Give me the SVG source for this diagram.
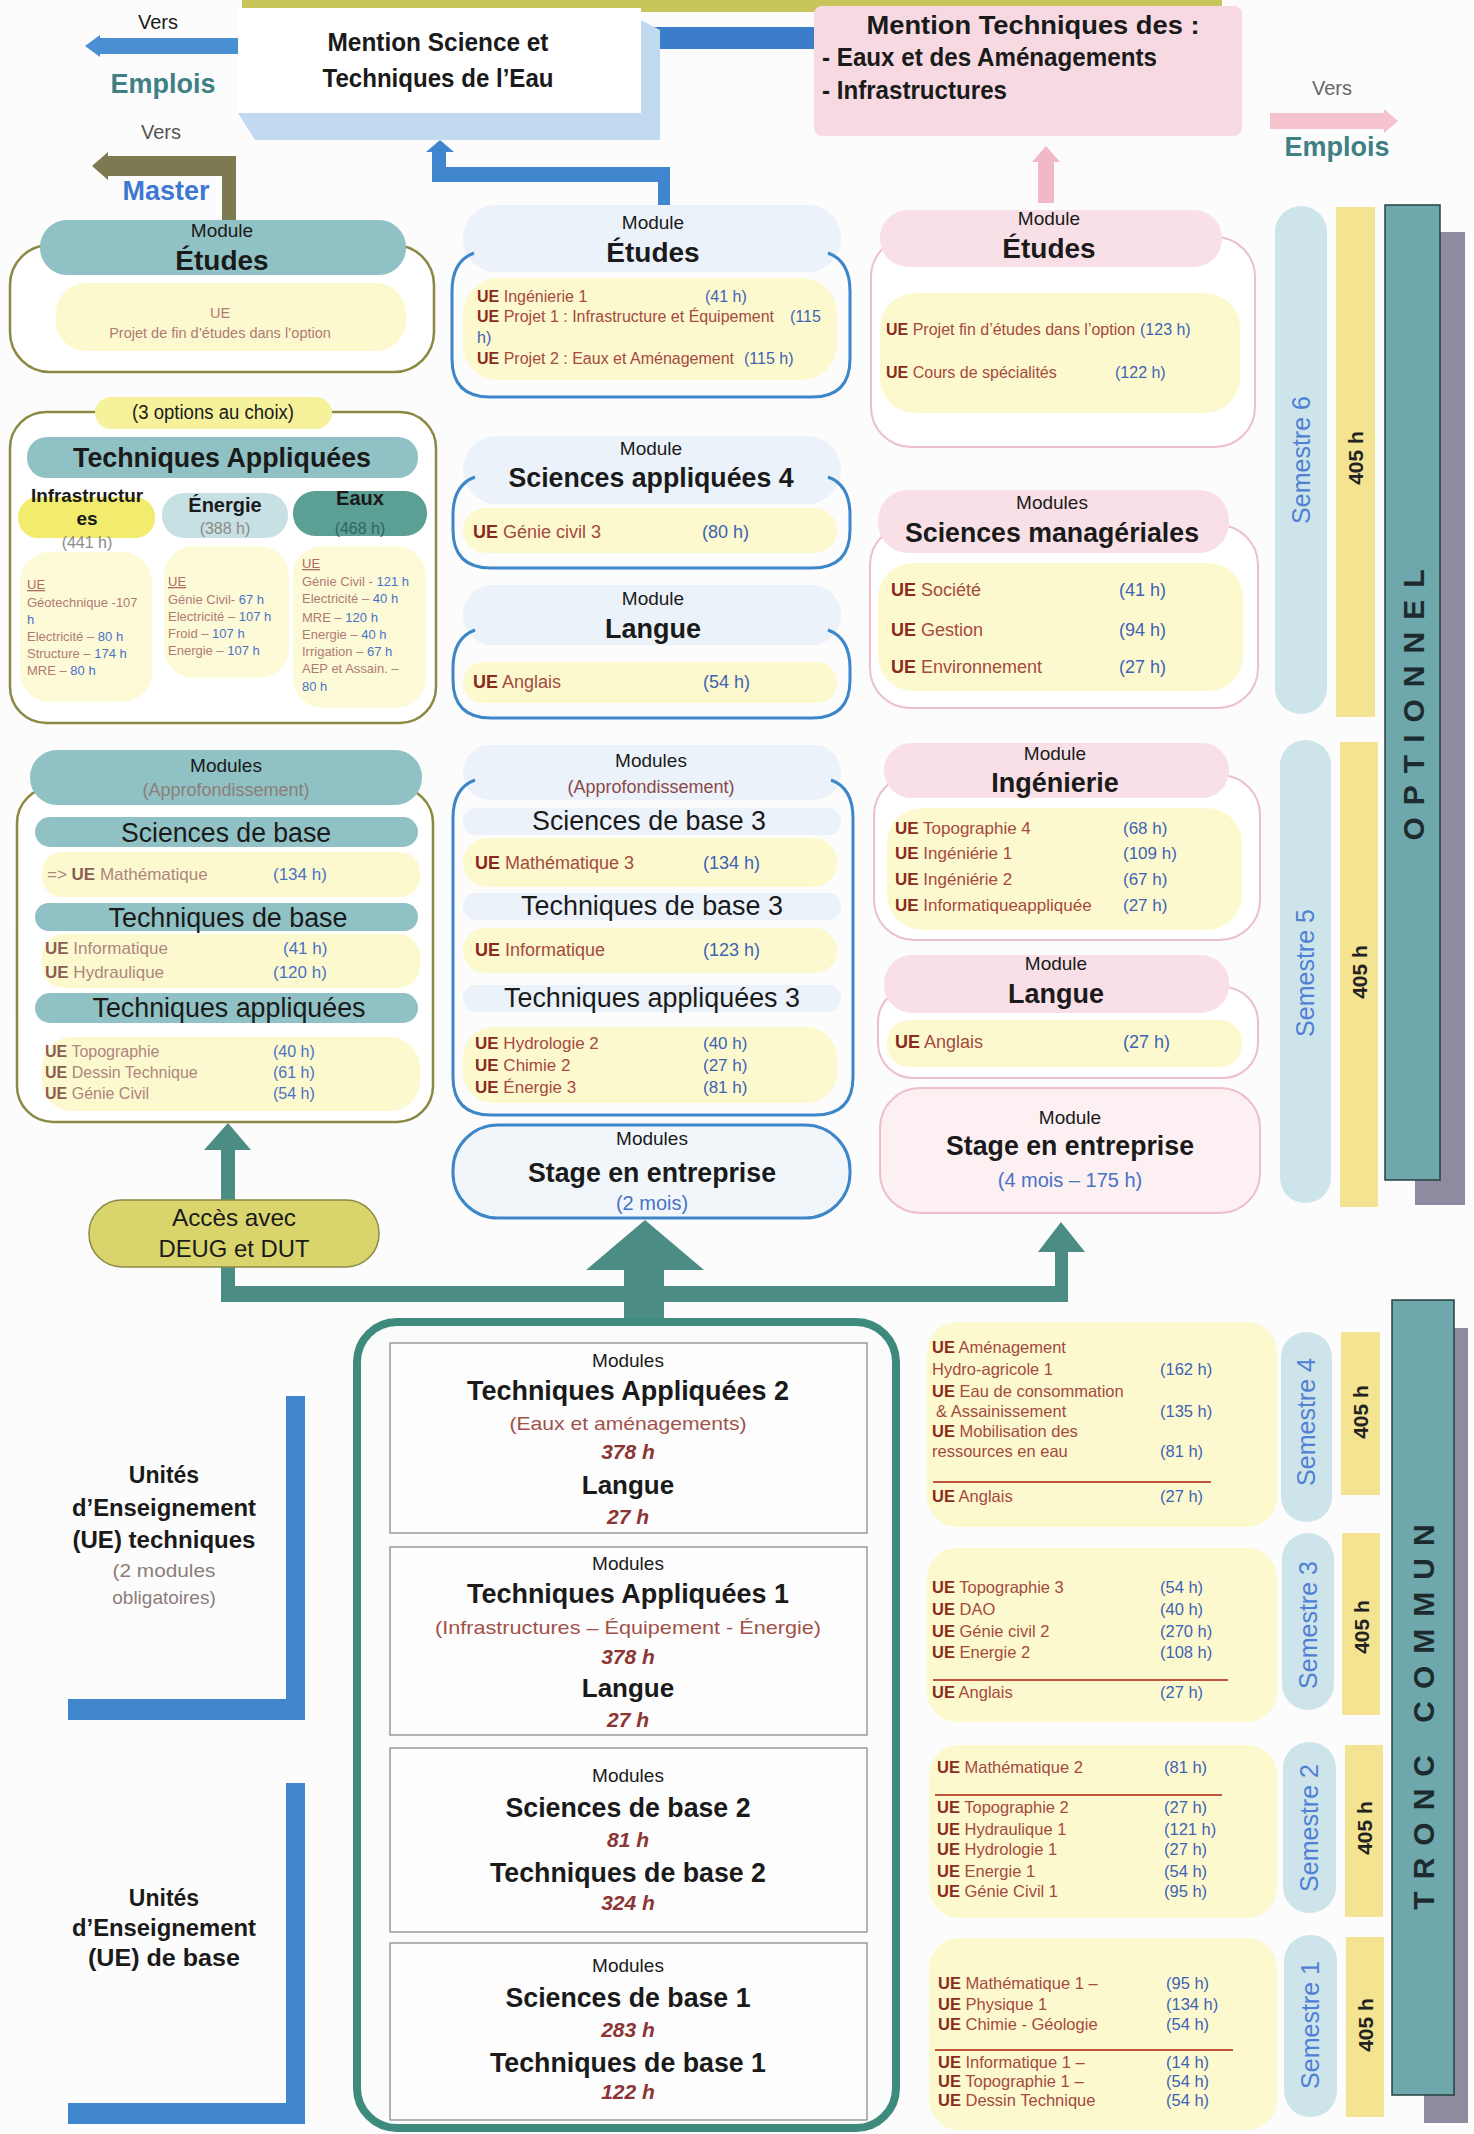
<svg xmlns="http://www.w3.org/2000/svg" width="1474" height="2134" viewBox="0 0 1474 2134">
<style>
text{font-family:"Liberation Sans",Arial,Helvetica,sans-serif;fill:#1a1a1a}
.m{text-anchor:middle}
.b{font-weight:bold}
.ue{font-weight:bold;fill:#8a2b20}
.nm{fill:#a54a3e}
.hr{fill:#3d63b5}
.ue2{font-weight:bold;fill:#8a5e57}
.nm2{fill:#ad8680}
.hr2{fill:#4a72c4}
.op{fill:#b07a74}
.opu{fill:#b06a60;text-decoration:underline}
.gr{fill:#8c7d7a}
.sem{fill:#5080d4;font-size:25px}
.h405{font-weight:bold;font-size:21px;fill:#222}
.vert{font-weight:bold;font-size:30px;fill:#1e2b2e;letter-spacing:12px}
.hrs{font-style:italic;font-weight:bold;font-size:21px;fill:#8b3535}
.sub{font-size:19px;fill:#a0524a}
.pillT{fill:#90c1c4}
.pillB{fill:#ebf2f9}
.pillP{fill:#f8e0e6}
.yel{fill:#fdf9cf}
.olv{fill:#fff;stroke:#8b8944;stroke-width:2.5}
.blu{fill:none;stroke:#3d86c8;stroke-width:3}
.pnk{fill:#fff;stroke:#ecbfca;stroke-width:2}
.semp{fill:#cde5ea}
.bar{fill:#f4e390}
.inner{fill:#fdfdfd;stroke:#8c8c8c;stroke-width:1.3}
.sep{stroke:#c0553c;stroke-width:2}
</style>
<rect x="0" y="0" width="1474" height="2134" fill="#fcfcfc"/>

<!-- background bands -->
<rect x="242" y="0" width="980" height="12" fill="#c8c65a"/>
<rect x="620" y="27" width="210" height="22" fill="#3b7dc9"/>

<g id="connectors">
  <polygon points="85,46 100,35 100,38 245,38 245,54 100,54 100,57" fill="#4a8fd4"/>
  <polygon points="92,166 108,152 108,156 236,156 236,222 222,222 222,176 108,176 108,180" fill="#7d7a52"/>
  <polygon points="432,182 432,152 426,152 440,140 454,152 446,152 446,167 670,167 670,212 658,212 658,182" fill="#3f86cf"/>
  <polygon points="1038,203 1038,162 1032,162 1046,146 1060,162 1054,162 1054,203" fill="#f3b8c6"/>
  <polygon points="1270,113 1384,113 1384,109 1398,121 1384,133 1384,129 1270,129" fill="#f5c3ce"/>
  <polygon points="221,1302 221,1150 204,1150 228,1123 251,1150 235,1150 235,1286 1055,1286 1055,1252 1038,1252 1061,1222 1085,1252 1068,1252 1068,1302" fill="#4b8d84"/>
  <polygon points="624,1325 624,1270 586,1270 645,1220 704,1270 664,1270 664,1325" fill="#4b8d84"/>
  <polygon points="286,1396 305,1396 305,1720 68,1720 68,1699 286,1699" fill="#3f86cf"/>
  <polygon points="286,1783 305,1783 305,2124 68,2124 68,2103 286,2103" fill="#3f86cf"/>
</g>

<g id="vers-emplois-left">
  <text class="m" x="158" y="29" font-size="20" fill="#555">Vers</text>
  <text class="m b" x="163" y="93" font-size="27" style="fill:#3f8084">Emplois</text>
</g>
<g id="vers-master">
  <text class="m" x="161" y="139" font-size="20" style="fill:#555">Vers</text>
  <text class="m b" x="166" y="200" font-size="27" style="fill:#3c78d2">Master</text>
</g>

<g id="mention-science">
  <polygon points="238,113 641,113 641,20 660,30 660,140 255,140" fill="#c2daf0"/>
  <rect x="238" y="8" width="403" height="105" fill="#ffffff"/>
  <text class="m b" x="438" y="51" font-size="26" textLength="221" lengthAdjust="spacingAndGlyphs">Mention Science et</text>
  <text class="m b" x="438" y="87" font-size="26" textLength="231" lengthAdjust="spacingAndGlyphs">Techniques de l’Eau</text>
</g>

<g id="mention-techniques">
  <rect x="814" y="6" width="428" height="130" rx="8" fill="#f6d9e1"/>
  <text class="m b" x="1033" y="34" font-size="26" textLength="333" lengthAdjust="spacingAndGlyphs">Mention Techniques des :</text>
  <text class="b" x="822" y="66" font-size="26" textLength="335" lengthAdjust="spacingAndGlyphs">- Eaux et des Aménagements</text>
  <text class="b" x="822" y="99" font-size="26" textLength="185" lengthAdjust="spacingAndGlyphs">- Infrastructures</text>
</g>

<g id="vers-emplois-right">
  <text class="m" x="1332" y="95" font-size="20" style="fill:#666">Vers</text>
  <text class="m b" x="1337" y="156" font-size="27" style="fill:#3f8084">Emplois</text>
</g>

<!-- LEFT COLUMN -->
<g id="etudes-left">
  <rect class="olv" x="10" y="245" width="424" height="127" rx="40"/>
  <rect class="pillT" x="40" y="220" width="366" height="55" rx="27"/>
  <rect class="yel" x="56" y="283" width="350" height="68" rx="30"/>
  <text class="m" x="222" y="237" font-size="19">Module</text>
  <text class="m b" x="222" y="270" font-size="28">Études</text>
  <text class="m op" x="220" y="318" font-size="14.5">UE</text>
  <text class="m op" x="220" y="338" font-size="14.5">Projet de fin d’études dans l’option</text>
</g>

<g id="techniques-appliquees-options">
  <rect class="olv" x="10" y="412" width="426" height="311" rx="36"/>
  <rect x="95" y="397" width="237" height="32" rx="16" fill="#f6f29c"/>
  <text class="m" x="213" y="419" font-size="20" textLength="162" lengthAdjust="spacingAndGlyphs">(3 options au choix)</text>
  <rect class="pillT" x="27" y="437" width="391" height="41" rx="20"/>
  <text class="m b" x="222" y="467" font-size="27" textLength="298" lengthAdjust="spacingAndGlyphs">Techniques Appliquées</text>
  <rect x="18" y="497" width="137" height="41" rx="20" fill="#f2ec6e"/>
  <rect x="162" y="493" width="126" height="45" rx="22" fill="#c6e0e4"/>
  <rect x="293" y="491" width="134" height="45" rx="22" fill="#5b9f95"/>
  <rect x="20" y="552" width="132" height="150" rx="30" fill="#fdfad8"/>
  <rect x="164" y="546" width="125" height="132" rx="30" fill="#fdfad8"/>
  <rect x="293" y="546" width="133" height="162" rx="30" fill="#fdfad8"/>
  <text class="m b" x="87" y="502" font-size="19" textLength="112" lengthAdjust="spacingAndGlyphs">Infrastructur</text>
  <text class="m b" x="87" y="525" font-size="19">es</text>
  <text class="m" x="87" y="548" font-size="16" style="fill:#8e8a86">(441 h)</text>
  <text class="m b" x="225" y="512" font-size="20">Énergie</text>
  <text class="m" x="225" y="534" font-size="16" style="fill:#8e8a86">(388 h)</text>
  <text class="m b" x="360" y="505" font-size="20">Eaux</text>
  <text class="m" x="360" y="534" font-size="16" style="fill:#2f6660">(468 h)</text>
  <g font-size="13">
    <text class="opu" x="27" y="589">UE</text>
    <text class="op" x="27" y="607">Géotechnique -107</text>
    <text class="hr2" x="27" y="624">h</text>
    <text x="27" y="641"><tspan class="op">Electricité – </tspan><tspan class="hr2">80 h</tspan></text>
    <text x="27" y="658"><tspan class="op">Structure – </tspan><tspan class="hr2">174 h</tspan></text>
    <text x="27" y="675"><tspan class="op">MRE – </tspan><tspan class="hr2">80 h</tspan></text>
    <text class="opu" x="168" y="586">UE</text>
    <text x="168" y="604"><tspan class="op">Génie Civil- </tspan><tspan class="hr2">67 h</tspan></text>
    <text x="168" y="621"><tspan class="op">Electricité – </tspan><tspan class="hr2">107 h</tspan></text>
    <text x="168" y="638"><tspan class="op">Froid – </tspan><tspan class="hr2">107 h</tspan></text>
    <text x="168" y="655"><tspan class="op">Energie – </tspan><tspan class="hr2">107 h</tspan></text>
    <text class="opu" x="302" y="568">UE</text>
    <text x="302" y="586"><tspan class="op">Génie Civil - </tspan><tspan class="hr2">121 h</tspan></text>
    <text x="302" y="603"><tspan class="op">Electricité – </tspan><tspan class="hr2">40 h</tspan></text>
    <text x="302" y="622"><tspan class="op">MRE – </tspan><tspan class="hr2">120 h</tspan></text>
    <text x="302" y="639"><tspan class="op">Energie – </tspan><tspan class="hr2">40 h</tspan></text>
    <text x="302" y="656"><tspan class="op">Irrigation – </tspan><tspan class="hr2">67 h</tspan></text>
    <text class="op" x="302" y="673">AEP et Assain. –</text>
    <text class="hr2" x="302" y="691">80 h</text>
  </g>
</g>

<g id="approfondissement-left">
  <rect class="olv" x="17" y="787" width="416" height="335" rx="36"/>
  <rect class="pillT" x="30" y="750" width="392" height="55" rx="27"/>
  <text class="m" x="226" y="772" font-size="19">Modules</text>
  <text class="m gr" x="226" y="796" font-size="18">(Approfondissement)</text>
  <rect class="pillT" x="35" y="817" width="383" height="30" rx="15"/>
  <text class="m" x="226" y="842" font-size="27" textLength="210" lengthAdjust="spacingAndGlyphs">Sciences de base</text>
  <rect class="yel" x="42" y="852" width="378" height="45" rx="20"/>
  <text x="47" y="880" font-size="17"><tspan class="nm2">=&gt; </tspan><tspan class="ue2">UE</tspan><tspan class="nm2"> Mathématique</tspan></text>
  <text class="hr2" x="273" y="880" font-size="17">(134 h)</text>
  <rect class="pillT" x="35" y="903" width="383" height="28" rx="14"/>
  <text class="m" x="228" y="927" font-size="27" textLength="239" lengthAdjust="spacingAndGlyphs">Techniques de base</text>
  <rect class="yel" x="42" y="934" width="378" height="54" rx="22"/>
  <text x="45" y="954" font-size="17"><tspan class="ue2">UE</tspan><tspan class="nm2"> Informatique</tspan></text>
  <text class="hr2" x="283" y="954" font-size="17">(41 h)</text>
  <text x="45" y="978" font-size="17"><tspan class="ue2">UE</tspan><tspan class="nm2"> Hydraulique</tspan></text>
  <text class="hr2" x="273" y="978" font-size="17">(120 h)</text>
  <rect class="pillT" x="35" y="993" width="383" height="30" rx="15"/>
  <text class="m" x="229" y="1017" font-size="27" textLength="273" lengthAdjust="spacingAndGlyphs">Techniques appliquées</text>
  <rect class="yel" x="42" y="1037" width="378" height="74" rx="30"/>
  <text x="45" y="1057" font-size="16"><tspan class="ue2">UE</tspan><tspan class="nm2"> Topographie</tspan></text>
  <text class="hr2" x="273" y="1057" font-size="16">(40 h)</text>
  <text x="45" y="1078" font-size="16"><tspan class="ue2">UE</tspan><tspan class="nm2"> Dessin Technique</tspan></text>
  <text class="hr2" x="273" y="1078" font-size="16">(61 h)</text>
  <text x="45" y="1099" font-size="16"><tspan class="ue2">UE</tspan><tspan class="nm2"> Génie Civil</tspan></text>
  <text class="hr2" x="273" y="1099" font-size="16">(54 h)</text>
</g>

<g id="acces-deug-dut">
  <rect x="89" y="1200" width="290" height="67" rx="33" fill="#d9d46c" stroke="#8a8a44" stroke-width="1.5"/>
  <text class="m" x="234" y="1226" font-size="24" textLength="124" lengthAdjust="spacingAndGlyphs">Accès avec</text>
  <text class="m" x="234" y="1257" font-size="24" textLength="151" lengthAdjust="spacingAndGlyphs">DEUG et DUT</text>
</g>

<!-- MIDDLE COLUMN -->
<g id="etudes-middle">
  <rect class="pillB" x="463" y="205" width="378" height="67" rx="33"/>
  <path class="blu" d="M474,253 Q452,261 452,291 L452,359 Q452,397 490,397 L812,397 Q850,397 850,359 L850,291 Q850,261 828,253"/>
  <rect class="yel" x="463" y="278" width="374" height="102" rx="35"/>
  <text class="m" x="653" y="229" font-size="19">Module</text>
  <text class="m b" x="653" y="262" font-size="28">Études</text>
  <g font-size="16">
    <text x="477" y="302"><tspan class="ue">UE</tspan><tspan class="nm"> Ingénierie 1</tspan></text>
    <text class="hr" x="705" y="302">(41 h)</text>
    <text x="477" y="322"><tspan class="ue">UE</tspan><tspan class="nm"> Projet 1 : Infrastructure et Équipement</tspan></text>
    <text class="hr" x="790" y="322">(115</text>
    <text class="hr" x="477" y="343">h)</text>
    <text x="477" y="364"><tspan class="ue">UE</tspan><tspan class="nm"> Projet 2 : Eaux et Aménagement</tspan></text>
    <text class="hr" x="744" y="364">(115 h)</text>
  </g>
</g>

<g id="sciences-appliquees-4">
  <rect class="pillB" x="463" y="436" width="378" height="68" rx="34"/>
  <path class="blu" d="M475,477 Q453,485 453,515 L453,530 Q453,568 491,568 L812,568 Q850,568 850,530 L850,515 Q850,485 828,477"/>
  <rect class="yel" x="463" y="508" width="374" height="45" rx="22"/>
  <text class="m" x="651" y="455" font-size="19">Module</text>
  <text class="m b" x="651" y="487" font-size="27" textLength="285" lengthAdjust="spacingAndGlyphs">Sciences appliquées 4</text>
  <text x="473" y="538" font-size="18"><tspan class="ue">UE</tspan><tspan class="nm"> Génie civil 3</tspan></text>
  <text class="hr" x="702" y="538" font-size="18">(80 h)</text>
</g>

<g id="langue-middle">
  <rect class="pillB" x="463" y="585" width="378" height="60" rx="30"/>
  <path class="blu" d="M475,630 Q453,638 453,668 L453,680 Q453,718 491,718 L812,718 Q850,718 850,680 L850,668 Q850,638 828,630"/>
  <rect class="yel" x="463" y="662" width="374" height="41" rx="20"/>
  <text class="m" x="653" y="605" font-size="19">Module</text>
  <text class="m b" x="653" y="638" font-size="27">Langue</text>
  <text x="473" y="688" font-size="18"><tspan class="ue">UE</tspan><tspan class="nm"> Anglais</tspan></text>
  <text class="hr" x="703" y="688" font-size="18">(54 h)</text>
</g>

<g id="approfondissement-middle">
  <rect class="pillB" x="463" y="745" width="378" height="55" rx="27"/>
  <path class="blu" d="M475,780 Q453,788 453,818 L453,1077 Q453,1115 491,1115 L815,1115 Q853,1115 853,1077 L853,818 Q853,788 831,780"/>
  <text class="m" x="651" y="767" font-size="19">Modules</text>
  <text class="m" x="651" y="793" font-size="18" style="fill:#8a4848">(Approfondissement)</text>
  <rect class="pillB" x="463" y="808" width="378" height="27" rx="13"/>
  <text class="m" x="649" y="830" font-size="27" textLength="234" lengthAdjust="spacingAndGlyphs">Sciences de base 3</text>
  <rect class="yel" x="463" y="838" width="374" height="49" rx="24"/>
  <text x="475" y="869" font-size="18"><tspan class="ue">UE</tspan><tspan class="nm"> Mathématique 3</tspan></text>
  <text class="hr" x="703" y="869" font-size="18">(134 h)</text>
  <rect class="pillB" x="463" y="893" width="378" height="27" rx="13"/>
  <text class="m" x="652" y="915" font-size="27" textLength="262" lengthAdjust="spacingAndGlyphs">Techniques de base 3</text>
  <rect class="yel" x="463" y="928" width="374" height="45" rx="22"/>
  <text x="475" y="956" font-size="18"><tspan class="ue">UE</tspan><tspan class="nm"> Informatique</tspan></text>
  <text class="hr" x="703" y="956" font-size="18">(123 h)</text>
  <rect class="pillB" x="463" y="985" width="378" height="27" rx="13"/>
  <text class="m" x="652" y="1007" font-size="27" textLength="296" lengthAdjust="spacingAndGlyphs">Techniques appliquées 3</text>
  <rect class="yel" x="463" y="1027" width="374" height="76" rx="30"/>
  <g font-size="17">
    <text x="475" y="1049"><tspan class="ue">UE</tspan><tspan class="nm"> Hydrologie 2</tspan></text>
    <text class="hr" x="703" y="1049">(40 h)</text>
    <text x="475" y="1071"><tspan class="ue">UE</tspan><tspan class="nm"> Chimie 2</tspan></text>
    <text class="hr" x="703" y="1071">(27 h)</text>
    <text x="475" y="1093"><tspan class="ue">UE</tspan><tspan class="nm"> Énergie 3</tspan></text>
    <text class="hr" x="703" y="1093">(81 h)</text>
  </g>
</g>

<g id="stage-middle">
  <rect x="453" y="1125" width="397" height="93" rx="45" fill="#f1f6fb" stroke="#3d86c8" stroke-width="3"/>
  <text class="m" x="652" y="1145" font-size="19">Modules</text>
  <text class="m b" x="652" y="1182" font-size="27" textLength="248" lengthAdjust="spacingAndGlyphs">Stage en entreprise</text>
  <text class="m" x="652" y="1210" font-size="20" style="fill:#4a72c4">(2 mois)</text>
</g>

<!-- RIGHT COLUMN -->
<g id="etudes-right">
  <rect class="pnk" x="871" y="237" width="384" height="210" rx="40"/>
  <rect class="pillP" x="880" y="210" width="342" height="57" rx="28"/>
  <rect class="yel" x="880" y="293" width="360" height="120" rx="35"/>
  <text class="m" x="1049" y="225" font-size="19">Module</text>
  <text class="m b" x="1049" y="258" font-size="28">Études</text>
  <text x="886" y="335" font-size="16"><tspan class="ue">UE</tspan><tspan class="nm"> Projet fin d’études dans l’option</tspan></text>
  <text class="hr" x="1140" y="335" font-size="16">(123 h)</text>
  <text x="886" y="378" font-size="16"><tspan class="ue">UE</tspan><tspan class="nm"> Cours de spécialités</tspan></text>
  <text class="hr" x="1115" y="378" font-size="16">(122 h)</text>
</g>

<g id="sciences-manageriales">
  <rect class="pnk" x="870" y="525" width="388" height="183" rx="40"/>
  <rect class="pillP" x="878" y="490" width="351" height="63" rx="30"/>
  <rect class="yel" x="878" y="563" width="365" height="128" rx="35"/>
  <text class="m" x="1052" y="509" font-size="19">Modules</text>
  <text class="m b" x="1052" y="542" font-size="27" textLength="294" lengthAdjust="spacingAndGlyphs">Sciences managériales</text>
  <text x="891" y="596" font-size="18"><tspan class="ue">UE</tspan><tspan class="nm"> Société</tspan></text>
  <text class="hr" x="1119" y="596" font-size="18">(41 h)</text>
  <text x="891" y="636" font-size="18"><tspan class="ue">UE</tspan><tspan class="nm"> Gestion</tspan></text>
  <text class="hr" x="1119" y="636" font-size="18">(94 h)</text>
  <text x="891" y="673" font-size="18"><tspan class="ue">UE</tspan><tspan class="nm"> Environnement</tspan></text>
  <text class="hr" x="1119" y="673" font-size="18">(27 h)</text>
</g>

<g id="ingenierie">
  <rect class="pnk" x="874" y="775" width="386" height="165" rx="40"/>
  <rect class="pillP" x="884" y="743" width="345" height="55" rx="27"/>
  <rect class="yel" x="887" y="808" width="355" height="122" rx="35"/>
  <text class="m" x="1055" y="760" font-size="19">Module</text>
  <text class="m b" x="1055" y="792" font-size="27">Ingénierie</text>
  <g font-size="17">
    <text x="895" y="834"><tspan class="ue">UE</tspan><tspan class="nm"> Topographie 4</tspan></text>
    <text class="hr" x="1123" y="834">(68 h)</text>
    <text x="895" y="859"><tspan class="ue">UE</tspan><tspan class="nm"> Ingéniérie 1</tspan></text>
    <text class="hr" x="1123" y="859">(109 h)</text>
    <text x="895" y="885"><tspan class="ue">UE</tspan><tspan class="nm"> Ingéniérie 2</tspan></text>
    <text class="hr" x="1123" y="885">(67 h)</text>
    <text x="895" y="911"><tspan class="ue">UE</tspan><tspan class="nm"> Informatiqueappliquée</tspan></text>
    <text class="hr" x="1123" y="911">(27 h)</text>
  </g>
</g>

<g id="langue-right">
  <rect class="pnk" x="878" y="987" width="380" height="91" rx="35"/>
  <rect class="pillP" x="884" y="955" width="345" height="58" rx="28"/>
  <rect class="yel" x="887" y="1020" width="355" height="47" rx="22"/>
  <text class="m" x="1056" y="970" font-size="19">Module</text>
  <text class="m b" x="1056" y="1003" font-size="27">Langue</text>
  <text x="895" y="1048" font-size="18"><tspan class="ue">UE</tspan><tspan class="nm"> Anglais</tspan></text>
  <text class="hr" x="1123" y="1048" font-size="18">(27 h)</text>
</g>

<g id="stage-right">
  <rect x="880" y="1088" width="380" height="125" rx="40" fill="#fcf0f3" stroke="#ecbfca" stroke-width="2"/>
  <text class="m" x="1070" y="1124" font-size="19">Module</text>
  <text class="m b" x="1070" y="1155" font-size="27" textLength="248" lengthAdjust="spacingAndGlyphs">Stage en entreprise</text>
  <text class="m" x="1070" y="1187" font-size="20" style="fill:#4a72c4">(4 mois – 175 h)</text>
</g>

<!-- LEFT LABELS -->
<g id="ue-techniques-label">
  <text class="m b" x="164" y="1483" font-size="23">Unités</text>
  <text class="m b" x="164" y="1516" font-size="23" textLength="184" lengthAdjust="spacingAndGlyphs">d’Enseignement</text>
  <text class="m b" x="164" y="1548" font-size="23" textLength="183" lengthAdjust="spacingAndGlyphs">(UE) techniques</text>
  <text class="m gr" x="164" y="1577" font-size="19" textLength="103" lengthAdjust="spacingAndGlyphs">(2 modules</text>
  <text class="m gr" x="164" y="1604" font-size="19">obligatoires)</text>
</g>
<g id="ue-base-label">
  <text class="m b" x="164" y="1906" font-size="23">Unités</text>
  <text class="m b" x="164" y="1936" font-size="23" textLength="184" lengthAdjust="spacingAndGlyphs">d’Enseignement</text>
  <text class="m b" x="164" y="1966" font-size="23" textLength="152" lengthAdjust="spacingAndGlyphs">(UE) de base</text>
</g>

<!-- TRONC COMMUN BOX -->
<g id="tronc-commun-modules">
  <rect x="357" y="1322" width="539" height="806" rx="40" fill="#fafbfb" stroke="#3e8a7c" stroke-width="8"/>
  <rect class="inner" x="390" y="1343" width="477" height="190"/>
  <text class="m" x="628" y="1367" font-size="19">Modules</text>
  <text class="m b" x="628" y="1400" font-size="27" textLength="322" lengthAdjust="spacingAndGlyphs">Techniques Appliquées 2</text>
  <text class="m sub" x="628" y="1430" textLength="237" lengthAdjust="spacingAndGlyphs">(Eaux et aménagements)</text>
  <text class="m hrs" x="628" y="1459">378 h</text>
  <text class="m b" x="628" y="1494" font-size="26">Langue</text>
  <text class="m hrs" x="628" y="1524">27 h</text>
  <rect class="inner" x="390" y="1547" width="477" height="188"/>
  <text class="m" x="628" y="1570" font-size="19">Modules</text>
  <text class="m b" x="628" y="1603" font-size="27" textLength="322" lengthAdjust="spacingAndGlyphs">Techniques Appliquées 1</text>
  <text class="m sub" x="628" y="1634" textLength="386" lengthAdjust="spacingAndGlyphs">(Infrastructures – Équipement - Énergie)</text>
  <text class="m hrs" x="628" y="1664">378 h</text>
  <text class="m b" x="628" y="1697" font-size="26">Langue</text>
  <text class="m hrs" x="628" y="1727">27 h</text>
  <rect class="inner" x="390" y="1748" width="477" height="184"/>
  <text class="m" x="628" y="1782" font-size="19">Modules</text>
  <text class="m b" x="628" y="1817" font-size="27" textLength="245" lengthAdjust="spacingAndGlyphs">Sciences de base 2</text>
  <text class="m hrs" x="628" y="1847">81 h</text>
  <text class="m b" x="628" y="1882" font-size="27" textLength="276" lengthAdjust="spacingAndGlyphs">Techniques de base 2</text>
  <text class="m hrs" x="628" y="1910">324 h</text>
  <rect class="inner" x="390" y="1943" width="477" height="177"/>
  <text class="m" x="628" y="1972" font-size="19">Modules</text>
  <text class="m b" x="628" y="2007" font-size="27" textLength="245" lengthAdjust="spacingAndGlyphs">Sciences de base 1</text>
  <text class="m hrs" x="628" y="2037">283 h</text>
  <text class="m b" x="628" y="2072" font-size="27" textLength="276" lengthAdjust="spacingAndGlyphs">Techniques de base 1</text>
  <text class="m hrs" x="628" y="2099">122 h</text>
</g>

<!-- RIGHT TRONC LISTS -->
<g id="ue-semestre-4" font-size="16.5">
  <rect class="yel" x="927" y="1322" width="350" height="205" rx="30"/>
  <text x="932" y="1353"><tspan class="ue">UE</tspan><tspan class="nm"> Aménagement</tspan></text>
  <text class="nm" x="932" y="1375">Hydro-agricole 1</text>
  <text class="hr" x="1160" y="1375">(162 h)</text>
  <text x="932" y="1397"><tspan class="ue">UE</tspan><tspan class="nm"> Eau de consommation</tspan></text>
  <text class="nm" x="936" y="1417">&amp; Assainissement</text>
  <text class="hr" x="1160" y="1417">(135 h)</text>
  <text x="932" y="1437"><tspan class="ue">UE</tspan><tspan class="nm"> Mobilisation des</tspan></text>
  <text class="nm" x="932" y="1457">ressources en eau</text>
  <text class="hr" x="1160" y="1457">(81 h)</text>
  <line class="sep" x1="933" y1="1482" x2="1211" y2="1482"/>
  <text x="932" y="1502"><tspan class="ue">UE</tspan><tspan class="nm"> Anglais</tspan></text>
  <text class="hr" x="1160" y="1502">(27 h)</text>
</g>
<g id="ue-semestre-3" font-size="16.5">
  <rect class="yel" x="927" y="1548" width="350" height="174" rx="30"/>
  <text x="932" y="1593"><tspan class="ue">UE</tspan><tspan class="nm"> Topographie 3</tspan></text>
  <text class="hr" x="1160" y="1593">(54 h)</text>
  <text x="932" y="1615"><tspan class="ue">UE</tspan><tspan class="nm"> DAO</tspan></text>
  <text class="hr" x="1160" y="1615">(40 h)</text>
  <text x="932" y="1637"><tspan class="ue">UE</tspan><tspan class="nm"> Génie civil 2</tspan></text>
  <text class="hr" x="1160" y="1637">(270 h)</text>
  <text x="932" y="1658"><tspan class="ue">UE</tspan><tspan class="nm"> Energie 2</tspan></text>
  <text class="hr" x="1160" y="1658">(108 h)</text>
  <line class="sep" x1="933" y1="1680" x2="1228" y2="1680"/>
  <text x="932" y="1698"><tspan class="ue">UE</tspan><tspan class="nm"> Anglais</tspan></text>
  <text class="hr" x="1160" y="1698">(27 h)</text>
</g>
<g id="ue-semestre-2" font-size="16.5">
  <rect class="yel" x="929" y="1745" width="348" height="173" rx="30"/>
  <text x="937" y="1773"><tspan class="ue">UE</tspan><tspan class="nm"> Mathématique 2</tspan></text>
  <text class="hr" x="1164" y="1773">(81 h)</text>
  <line class="sep" x1="935" y1="1795" x2="1222" y2="1795"/>
  <text x="937" y="1813"><tspan class="ue">UE</tspan><tspan class="nm"> Topographie 2</tspan></text>
  <text class="hr" x="1164" y="1813">(27 h)</text>
  <text x="937" y="1835"><tspan class="ue">UE</tspan><tspan class="nm"> Hydraulique 1</tspan></text>
  <text class="hr" x="1164" y="1835">(121 h)</text>
  <text x="937" y="1855"><tspan class="ue">UE</tspan><tspan class="nm"> Hydrologie 1</tspan></text>
  <text class="hr" x="1164" y="1855">(27 h)</text>
  <text x="937" y="1877"><tspan class="ue">UE</tspan><tspan class="nm"> Energie 1</tspan></text>
  <text class="hr" x="1164" y="1877">(54 h)</text>
  <text x="937" y="1897"><tspan class="ue">UE</tspan><tspan class="nm"> Génie Civil 1</tspan></text>
  <text class="hr" x="1164" y="1897">(95 h)</text>
</g>
<g id="ue-semestre-1" font-size="16.5">
  <rect class="yel" x="929" y="1938" width="348" height="192" rx="30"/>
  <text x="938" y="1989"><tspan class="ue">UE</tspan><tspan class="nm"> Mathématique 1 –</tspan></text>
  <text class="hr" x="1166" y="1989">(95 h)</text>
  <text x="938" y="2010"><tspan class="ue">UE</tspan><tspan class="nm"> Physique 1</tspan></text>
  <text class="hr" x="1166" y="2010">(134 h)</text>
  <text x="938" y="2030"><tspan class="ue">UE</tspan><tspan class="nm"> Chimie - Géologie</tspan></text>
  <text class="hr" x="1166" y="2030">(54 h)</text>
  <line class="sep" x1="935" y1="2050" x2="1233" y2="2050"/>
  <text x="938" y="2068"><tspan class="ue">UE</tspan><tspan class="nm"> Informatique 1 –</tspan></text>
  <text class="hr" x="1166" y="2068">(14 h)</text>
  <text x="938" y="2087"><tspan class="ue">UE</tspan><tspan class="nm"> Topographie 1 –</tspan></text>
  <text class="hr" x="1166" y="2087">(54 h)</text>
  <text x="938" y="2106"><tspan class="ue">UE</tspan><tspan class="nm"> Dessin Technique</tspan></text>
  <text class="hr" x="1166" y="2106">(54 h)</text>
</g>

<!-- SEMESTERS -->
<g id="semestre-6">
  <rect class="semp" x="1275" y="206" width="52" height="508" rx="26"/>
  <rect class="bar" x="1336" y="207" width="39" height="510"/>
  <text class="m sem" transform="translate(1310,460) rotate(-90)">Semestre 6</text>
  <text class="m h405" transform="translate(1363,458) rotate(-90)">405 h</text>
</g>
<g id="semestre-5">
  <rect class="semp" x="1280" y="740" width="51" height="463" rx="25"/>
  <rect class="bar" x="1340" y="742" width="38" height="465"/>
  <text class="m sem" transform="translate(1314,973) rotate(-90)">Semestre 5</text>
  <text class="m h405" transform="translate(1367,972) rotate(-90)">405 h</text>
</g>
<g id="semestre-4">
  <rect class="semp" x="1281" y="1332" width="51" height="190" rx="25"/>
  <rect class="bar" x="1341" y="1332" width="39" height="163"/>
  <text class="m sem" transform="translate(1315,1422) rotate(-90)">Semestre 4</text>
  <text class="m h405" transform="translate(1368,1412) rotate(-90)">405 h</text>
</g>
<g id="semestre-3">
  <rect class="semp" x="1282" y="1533" width="52" height="177" rx="26"/>
  <rect class="bar" x="1342" y="1533" width="38" height="182"/>
  <text class="m sem" transform="translate(1317,1625) rotate(-90)">Semestre 3</text>
  <text class="m h405" transform="translate(1369,1627) rotate(-90)">405 h</text>
</g>
<g id="semestre-2">
  <rect class="semp" x="1283" y="1742" width="53" height="171" rx="26"/>
  <rect class="bar" x="1345" y="1745" width="38" height="172"/>
  <text class="m sem" transform="translate(1318,1828) rotate(-90)">Semestre 2</text>
  <text class="m h405" transform="translate(1372,1828) rotate(-90)">405 h</text>
</g>
<g id="semestre-1">
  <rect class="semp" x="1284" y="1935" width="53" height="182" rx="26"/>
  <rect class="bar" x="1346" y="1937" width="38" height="180"/>
  <text class="m sem" transform="translate(1319,2025) rotate(-90)">Semestre 1</text>
  <text class="m h405" transform="translate(1373,2025) rotate(-90)">405 h</text>
</g>

<g id="optionnel">
  <rect x="1415" y="232" width="50" height="973" fill="#8f8aa0"/>
  <rect x="1385" y="205" width="55" height="975" fill="#6ea8ad" stroke="#24403f" stroke-width="1.5"/>
  <text class="m vert" transform="translate(1424,699) rotate(-90)">OPTIONNEL</text>
</g>
<g id="tronc-commun">
  <rect x="1424" y="1328" width="44" height="795" fill="#8f8aa0"/>
  <rect x="1392" y="1300" width="62" height="795" fill="#6ea8ad" stroke="#24403f" stroke-width="1.5"/>
  <text class="m vert" transform="translate(1434,1711) rotate(-90)">TRONC COMMUN</text>
</g>
</svg>
